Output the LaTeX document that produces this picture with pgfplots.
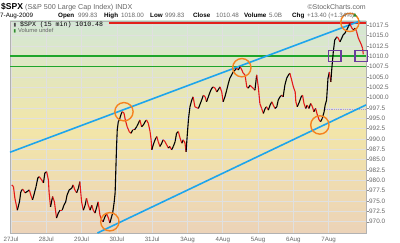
\documentclass[border=0pt]{standalone}
\usepackage{fontspec}
\setmainfont{Liberation Sans}
\newfontfamily\monofont{Liberation Mono}
\newfontfamily\symfont{DejaVu Sans}
\usepackage{pgfplots}
\pgfplotsset{compat=1.18}
\usepackage{pgfplotstable}

\definecolor{bgtop}{HTML}{D3E7D5}
\definecolor{bgmid}{HTML}{F2E6A8}
\definecolor{bgbot}{HTML}{ECD3B8}
\definecolor{chanblue}{HTML}{1EA5EC}
\definecolor{lvlgreen}{HTML}{1FA52B}
\definecolor{hired}{HTML}{E3201B}
\definecolor{circorange}{HTML}{F5821F}
\definecolor{boxpurple}{HTML}{6A3C9E}
\definecolor{candred}{HTML}{E21A1A}
\definecolor{txtgray}{HTML}{666666}
\definecolor{prevclose}{HTML}{A898E0}
\definecolor{upgreen}{HTML}{2E8B2E}

\pgfplotstableread{
d v c
0.02 978.9 0
0.07 978.5 0
0.11 975.7 0
0.18 972.8 1
0.24 974.8 1
0.28 977.3 1
0.33 977.9 0
0.40 977.0 1
0.46 977.3 1
0.52 977.7 0
0.56 976.5 0
0.61 975.3 1
0.65 976.5 1
0.71 978.5 1
0.76 980.6 1
0.80 980.9 0
0.87 980.1 0
0.92 979.4 1
0.96 981.8 1
1.01 982.1 0
1.06 980.1 0
1.08 977.0 0
1.12 973.6 1
1.16 975.3 1
1.18 976.1 0
1.23 974.8 0
1.29 970.9 1
1.34 972.1 1
1.39 972.8 0
1.45 972.8 1
1.50 974.0 1
1.55 974.8 1
1.59 976.5 1
1.65 977.7 1
1.72 978.1 1
1.76 978.9 0
1.81 977.7 0
1.86 977.0 1
1.91 978.1 1
1.95 979.7 0
2.00 974.8 0
2.05 972.8 1
2.10 974.0 1
2.14 975.7 0
2.19 974.0 0
2.24 972.8 1
2.29 974.0 0
2.33 972.8 0
2.38 972.1 1
2.43 973.6 1
2.47 974.8 0
2.52 971.6 0
2.57 970.4 0
2.61 970.0 1
2.66 971.2 1
2.71 971.9 0
2.76 970.9 0
2.80 969.7 1
2.85 971.2 1
2.88 972.1 1
2.92 974.5 1
2.95 977.0 1
2.97 982.5 1
2.99 988.1 1
3.01 992.2 1
3.04 994.2 1
3.07 994.6 1
3.11 995.8 1
3.15 996.6 0
3.20 996.3 0
3.24 994.6 0
3.29 993.0 0
3.35 991.8 0
3.40 991.4 1
3.45 992.2 0
3.50 992.2 1
3.56 993.0 1
3.61 993.8 1
3.65 994.6 0
3.70 993.0 1
3.75 993.4 1
3.80 994.2 1
3.84 994.6 0
3.89 993.8 0
3.94 991.8 0
3.97 989.8 0
3.99 987.4 1
4.03 988.6 1
4.08 989.8 1
4.13 990.6 0
4.17 989.4 0
4.22 988.2 1
4.27 989.0 1
4.31 989.8 0
4.36 989.4 0
4.41 988.6 0
4.46 987.8 1
4.50 988.2 0
4.55 987.4 1
4.60 988.2 1
4.65 989.4 1
4.69 991.4 1
4.74 991.8 0
4.79 990.2 0
4.84 989.0 1
4.88 989.8 0
4.93 989.0 0
4.96 986.9 1
4.99 990.6 1
5.03 995.0 1
5.07 997.8 1
5.12 999.4 1
5.16 1000.2 0
5.21 997.8 0
5.31 997.4 1
5.40 999.4 1
5.45 1000.6 0
5.50 1000.2 0
5.54 999.0 1
5.59 1000.2 1
5.64 1001.4 1
5.69 1002.3 1
5.73 1002.6 0
5.78 1002.3 0
5.83 1001.4 1
5.87 1001.9 1
5.92 1002.6 0
5.97 1001.4 0
6.01 999.0 1
6.06 1000.2 1
6.11 1001.8 1
6.16 1003.5 1
6.20 1004.7 1
6.25 1005.5 1
6.30 1006.3 1
6.35 1006.7 1
6.39 1007.1 0
6.44 1006.7 1
6.49 1007.5 0
6.54 1006.7 0
6.58 1005.9 0
6.63 1005.5 0
6.68 1002.6 0
6.72 1002.3 1
6.77 1003.0 0
6.82 1002.6 0
6.86 1002.3 0
6.91 1001.8 1
6.96 1005.5 0
7.01 1002.3 0
7.05 998.6 0
7.10 997.4 0
7.15 996.2 1
7.20 997.4 1
7.24 997.8 0
7.29 997.0 1
7.34 998.2 1
7.39 999.0 0
7.43 998.2 0
7.48 997.4 1
7.53 997.8 1
7.57 999.4 1
7.62 1000.2 1
7.67 1000.6 0
7.71 1000.2 1
7.76 1003.1 1
7.81 1004.7 1
7.86 1005.5 1
7.90 1005.9 0
7.95 1004.3 0
8.00 1002.6 0
8.05 1001.4 0
8.07 999.0 0
8.11 997.8 1
8.17 999.0 1
8.22 1000.2 1
8.26 1000.6 0
8.30 998.6 0
8.35 997.4 1
8.39 998.2 0
8.44 997.4 1
8.49 998.6 0
8.54 997.8 0
8.58 996.6 1
8.63 997.4 0
8.68 995.8 0
8.73 994.6 0
8.77 994.2 1
8.82 995.0 1
8.87 996.6 1
8.90 998.2 1
8.94 999.4 1
8.98 1004.7 1
9.02 1006.2 0
9.06 1003.8 1
9.09 1007.2 1
9.13 1011.0 1
9.17 1013.9 1
9.23 1014.7 0
9.27 1014.4 0
9.32 1013.5 1
9.37 1014.4 1
9.41 1015.2 1
9.46 1015.6 1
9.51 1016.4 1
9.56 1017.2 1
9.60 1017.9 0
9.65 1016.9 0
9.70 1016.4 1
9.75 1016.8 0
9.79 1016.0 0
9.84 1014.4 0
9.89 1013.5 0
9.93 1012.7 0
9.96 1011.9 0
9.98 1010.5 0
}\spx

\begin{document}
\begin{tikzpicture}
\begin{axis}[
  name=ax, at={(0,0)}, anchor=south west,
  scale only axis, width=356bp, height=212bp,
  xmin=-0.028, xmax=10.057, ymin=967.28, ymax=1018.54,
  clip=false,
  axis background/.style={shade, top color=bgtop, bottom color=bgbot, middle color=bgmid},
  axis line style={draw=black!30, line width=0.6bp},
  xtick={0,1,2,3,4,5,6,7,8,9},
  xticklabels={27Jul,28Jul,29Jul,30Jul,31Jul,3Aug,4Aug,5Aug,6Aug,7Aug},
  ytick={970,972.5,975,977.5,980,982.5,985,987.5,990,992.5,995,997.5,1000,1002.5,1005,1007.5,1010,1012.5,1015,1017.5},
  yticklabel pos=right,
  ytick pos=right,
  xtick pos=bottom,
  tick align=outside,
  major tick length=2.5bp,
  every x tick/.style={draw=none},
  every y tick/.style={draw=black!45, line width=0.5bp},
  grid=major,
  major grid style={draw=black!12, line width=0.7bp},
  /pgf/number format/assume math mode=true,
  yticklabel style={font=\fontsize{6.4}{7}\selectfont, text=txtgray, anchor=west, inner sep=0pt, xshift=0.5bp,
    /pgf/number format/.cd, fixed, fixed zerofill, precision=1, 1000 sep={}},
  xticklabel style={font=\fontsize{6.2}{7}\selectfont, text=txtgray, anchor=north, inner sep=0pt, yshift=-1.2bp},
  colormap={rb}{color=(candred) color=(black)},
  point meta min=0, point meta max=1,
]
% horizontal levels
\addplot[lvlgreen, line width=1.5bp] coordinates {(-0.028,1010.1) (10.057,1010.1)};
\addplot[lvlgreen, line width=1.5bp] coordinates {(-0.028,1007.5) (10.057,1007.5)};
\addplot[hired, line width=1.5bp] coordinates {(2.78,1018.1) (10.057,1018.1)};
\addplot[prevclose, densely dotted, line width=0.8bp] coordinates {(8.9,997.08) (10.057,997.08)};
% channel lines
\addplot[chanblue, line width=1.6bp] coordinates {(-0.028,986.8) (9.89,1018.54)};
\addplot[chanblue, line width=1.6bp] coordinates {(2.45,967.28) (10.057,998.24)};
% price
\addplot[mesh, shader=flat corner, line width=1.1bp, point meta=explicit] table[x=d, y=v, meta=c] {\spx};
% annotations
\addplot[only marks, mark=o, mark size=9.2pt, circorange, mark options={line width=1.4bp}] coordinates {(2.80,970.0) (3.20,996.6) (6.54,1007.25) (8.75,993.4) (9.60,1018.2)};
\addplot[only marks, mark=square, mark size=6.3pt, boxpurple, mark options={line width=1.3bp, yscale=0.88}] coordinates {(9.17,1010.1) (9.92,1010.1)};
\end{axis}
% header
\node[anchor=base west, inner sep=0pt, font=\fontsize{8.6}{10}\selectfont\bfseries] at (-9bp,223bp) {\$SPX};
\node[anchor=base west, inner sep=0pt, font=\fontsize{7.2}{9}\selectfont, text=txtgray] at (15bp,223bp) {(S\&P 500 Large Cap Index) INDX};
\node[anchor=base east, inner sep=0pt, font=\fontsize{7}{9}\selectfont, text=txtgray] at (356bp,223bp) {©StockCharts.com};
\begin{scope}[every node/.style={anchor=base west, inner sep=0pt, font=\fontsize{6.3}{8}\selectfont}]
\node at (-10bp,215.7bp) {7-Aug-2009};
\node[font=\fontsize{6.3}{8}\selectfont\bfseries] at (48bp,215.7bp) {Open};
\node[text=txtgray] at (68bp,215.7bp) {999.83};
\node[font=\fontsize{6.3}{8}\selectfont\bfseries] at (94bp,215.7bp) {High};
\node[text=txtgray] at (111bp,215.7bp) {1018.00};
\node[font=\fontsize{6.3}{8}\selectfont\bfseries] at (140bp,215.7bp) {Low};
\node[text=txtgray] at (155bp,215.7bp) {999.83};
\node[font=\fontsize{6.3}{8}\selectfont\bfseries] at (183bp,215.7bp) {Close};
\node[text=txtgray] at (206bp,215.7bp) {1010.48};
\node[font=\fontsize{6.3}{8}\selectfont\bfseries] at (234bp,215.7bp) {Volume};
\node[text=txtgray] at (259bp,215.7bp) {5.0B};
\node[font=\fontsize{6.3}{8}\selectfont\bfseries] at (282bp,215.7bp) {Chg};
\node[text=txtgray] at (297bp,215.7bp) {+13.40 (+1.34\%)};
\node[text=upgreen, font=\fontsize{5}{6}\selectfont\symfont] at (343bp,216bp) {▲};
\end{scope}
% legend inside
\node[anchor=base west, inner sep=0pt, font=\fontsize{6.6}{8}\selectfont\monofont] at (10bp,206.3bp) {\$SPX (15 min) 1010.48};
\node[anchor=base west, inner sep=0pt, font=\fontsize{5.8}{7}\selectfont, text=txtgray] at (8bp,200.5bp) {Volume undef};
\node[anchor=base west, inner sep=0pt, font=\fontsize{5}{6}\selectfont\symfont, text=black!70] at (3.5bp,206.5bp) {▮};
\node[anchor=base west, inner sep=0pt, font=\fontsize{4.5}{6}\selectfont\symfont, text=upgreen] at (3.5bp,200.8bp) {▮};
\pgfresetboundingbox
\path[use as bounding box] (-10bp,-10bp) rectangle (390bp,233bp);
\end{tikzpicture}
\end{document}
